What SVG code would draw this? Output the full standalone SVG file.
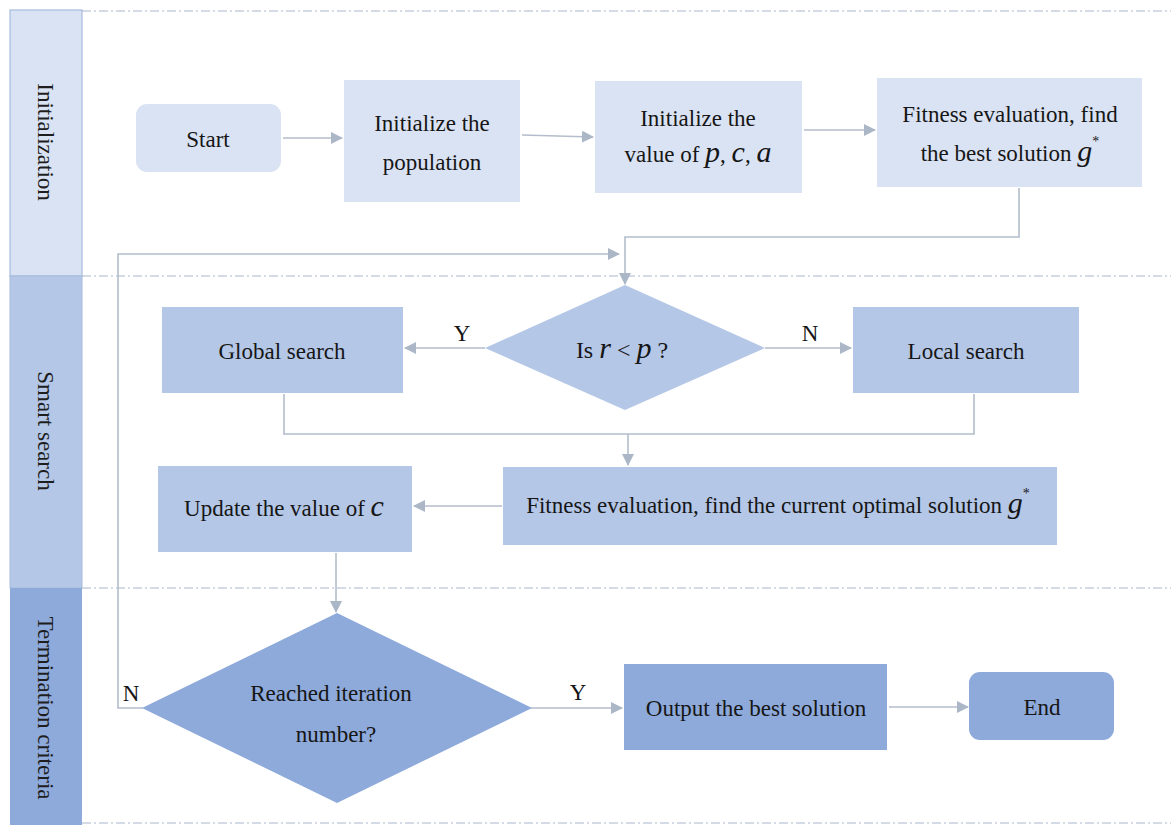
<svg xmlns="http://www.w3.org/2000/svg" width="1171" height="825" viewBox="0 0 1171 825">
<defs>
<style>
.t{font-family:"Liberation Serif","Times New Roman",serif;font-size:23px;fill:#161616;text-anchor:middle}
.lane{font-family:"Liberation Serif","Times New Roman",serif;font-size:23px;fill:#1e1e1e;text-anchor:middle}
.m{font-style:italic;font-size:30px}
.sep{stroke:#a9b8cc;stroke-width:1.2;stroke-dasharray:9 3 2 3;fill:none}
.c{stroke:#b3bdcb;stroke-width:1.6;fill:none}
.c1{fill:#dae3f3}
.c2{fill:#b4c7e7}
.c3{fill:#8eaadb}
</style>
<marker id="ah" viewBox="0 0 12 12" refX="11" refY="6" markerWidth="12" markerHeight="12" markerUnits="userSpaceOnUse" orient="auto">
<path d="M0,0 L12,6 L0,12 Z" fill="#abb7c7"/>
</marker>
</defs>
<rect x="0" y="0" width="1171" height="825" fill="#ffffff"/>

<g id="lanes">
<rect x="10" y="10" width="72" height="266" fill="#dae3f3" stroke="#a7bbde" stroke-width="1.2"/>
<rect x="10" y="276" width="72" height="312" fill="#b4c7e7" stroke="#a7bbde" stroke-width="1"/>
<rect x="10" y="588" width="72" height="237" fill="#8eaadb"/>
<text class="lane" transform="translate(46,142) rotate(90)" dy="8">Initialization</text>
<text class="lane" transform="translate(46,431) rotate(90)" dy="8">Smart search</text>
<text class="lane" transform="translate(46,708) rotate(90)" dy="8">Termination criteria</text>
</g>

<g id="separators">
<line class="sep" x1="82" y1="11" x2="1171" y2="11"/>
<line class="sep" x1="82" y1="276" x2="1171" y2="276"/>
<line class="sep" x1="82" y1="588" x2="1171" y2="588"/>
<line class="sep" x1="82" y1="823" x2="1171" y2="823"/>
</g>

<g id="connectors">
<line class="c" x1="283" y1="138" x2="342" y2="138" marker-end="url(#ah)"/>
<line class="c" x1="522" y1="135" x2="593" y2="137" marker-end="url(#ah)"/>
<line class="c" x1="804" y1="130" x2="875" y2="130" marker-end="url(#ah)"/>
<polyline class="c" points="1019,188 1019,237 625,237 625,284" marker-end="url(#ah)"/>
<line class="c" x1="485" y1="348" x2="405" y2="348" marker-end="url(#ah)"/>
<line class="c" x1="765" y1="348" x2="851" y2="348" marker-end="url(#ah)"/>
<polyline class="c" points="284,394 284,434 974,434 974,394"/>
<line class="c" x1="628" y1="434" x2="628" y2="465" marker-end="url(#ah)"/>
<line class="c" x1="502" y1="506" x2="414" y2="506" marker-end="url(#ah)"/>
<line class="c" x1="336" y1="553" x2="336" y2="612" marker-end="url(#ah)"/>
<polyline class="c" points="143,708 118,708 118,254 619,254" marker-end="url(#ah)"/>
<line class="c" x1="531" y1="708" x2="622" y2="708" marker-end="url(#ah)"/>
<line class="c" x1="889" y1="707" x2="968" y2="707" marker-end="url(#ah)"/>
<text class="t" x="462" y="341">Y</text>
<text class="t" x="810" y="341">N</text>
<text class="t" x="131" y="701">N</text>
<text class="t" x="578" y="700">Y</text>
</g>

<g id="start">
<rect class="c1" x="136" y="104" width="145" height="68" rx="11"/>
<text class="t" x="208" y="147">Start</text>
</g>
<g id="init-pop">
<rect class="c1" x="344" y="80" width="176" height="122"/>
<text class="t" x="432" y="131">Initialize the</text>
<text class="t" x="432" y="170">population</text>
</g>
<g id="init-val">
<rect class="c1" x="595" y="81" width="207" height="112"/>
<text class="t" x="698" y="126">Initialize the</text>
<text class="t" x="698" y="162">value of <tspan class="m">p</tspan>, <tspan class="m">c</tspan>, <tspan class="m">a</tspan></text>
</g>
<g id="fit-best">
<rect class="c1" x="877" y="78" width="265" height="109"/>
<text class="t" x="1010" y="122">Fitness evaluation, find</text>
<text class="t" x="1010" y="161">the best solution <tspan class="m">g</tspan><tspan font-size="14" dy="-15">*</tspan></text>
</g>

<g id="decision-r">
<polygon class="c2" points="625,285 765,348 625,410 485,348"/>
<text class="t" x="622" y="358" style="font-size:24px">Is <tspan class="m">r</tspan>  &lt;  <tspan class="m">p</tspan> ?</text>
</g>
<g id="global">
<rect class="c2" x="162" y="307" width="241" height="86"/>
<text class="t" x="282" y="359">Global search</text>
</g>
<g id="local">
<rect class="c2" x="853" y="307" width="226" height="86"/>
<text class="t" x="966" y="359">Local search</text>
</g>
<g id="fit-current">
<rect class="c2" x="503" y="467" width="554" height="78"/>
<text class="t" x="778" y="513">Fitness evaluation, find the current optimal solution <tspan class="m">g</tspan><tspan font-size="14" dy="-15">*</tspan></text>
</g>
<g id="update-c">
<rect class="c2" x="158" y="466" width="254" height="86"/>
<text class="t" x="284" y="516">Update the value of <tspan class="m">c</tspan></text>
</g>

<g id="decision-iter">
<polygon class="c3" points="337,613 532,708 337,803 142,708"/>
<text class="t" x="331" y="701">Reached iteration</text>
<text class="t" x="336" y="742">number?</text>
</g>
<g id="output">
<rect class="c3" x="624" y="664" width="263" height="86"/>
<text class="t" x="756" y="716">Output the best solution</text>
</g>
<g id="end">
<rect class="c3" x="969" y="672" width="145" height="68" rx="11"/>
<text class="t" x="1042" y="715">End</text>
</g>
</svg>
